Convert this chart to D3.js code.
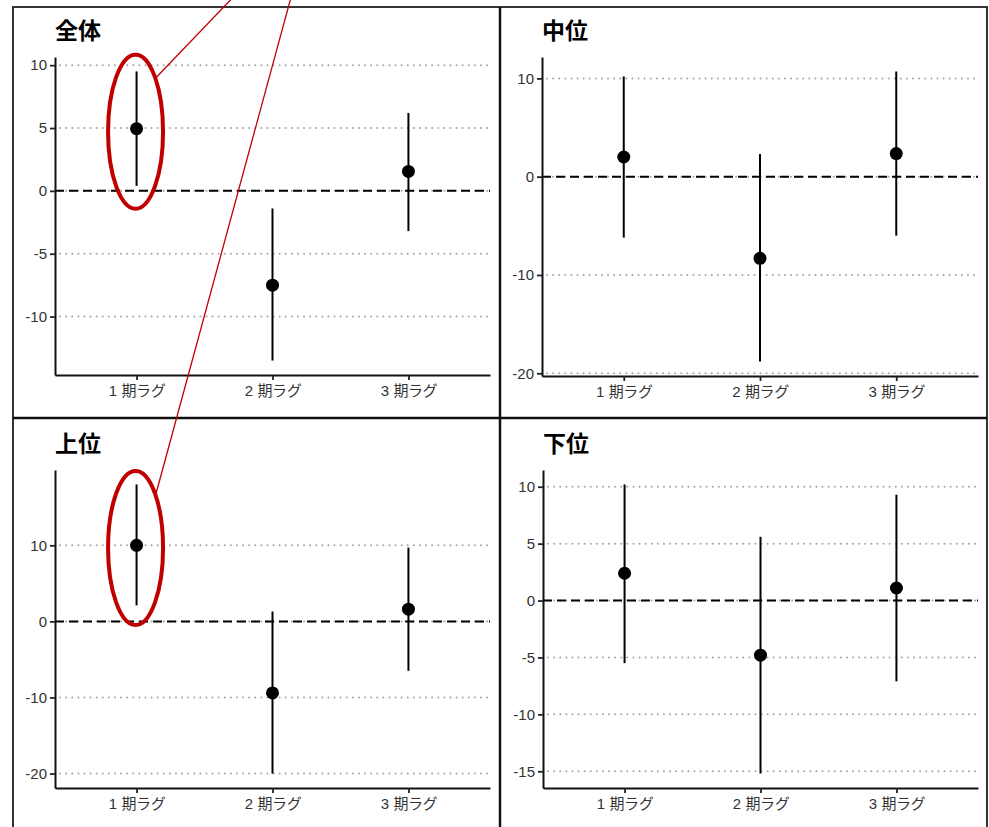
<!DOCTYPE html>
<html>
<head>
<meta charset="utf-8">
<script src="https://cdn.jsdelivr.net/npm/d3@7"></script>
<style>
  body { margin: 0; background: #fff; }
  .tick text { font-family: "Liberation Sans", "Noto Sans CJK JP", sans-serif; font-size: 15px; fill: #333; }
  .x-axis .tick text { font-size: 15px; letter-spacing: -0.4px; word-spacing: 1px; }
  .title { font-family: "Noto Sans CJK JP", sans-serif; font-weight: 700; font-size: 23px; fill: #000; }
</style>
</head>
<body>
<svg id="chart"></svg>
<script>
"use strict";

// categories
const lags = [ '1 期ラグ', '2 期ラグ', '3 期ラグ' ];
const panelNames = [ '全体', '中位', '上位', '下位' ];

// estimates and interval ends, per panel
const estAll    = [  4.95, -7.5,  1.55 ];
const lowAll    = [  0.4, -13.5, -3.2 ];
const highAll   = [  9.5,  -1.4,  6.2 ];

const estMid    = [  2.0,  -8.3,  2.35 ];
const lowMid    = [ -6.2, -18.8, -6.0 ];
const highMid   = [ 10.2,   2.3, 10.7 ];

const estTop    = [ 10.0,  -9.4,  1.6 ];
const lowTop    = [  2.1, -20.0, -6.5 ];
const highTop   = [ 18.0,   1.3,  9.7 ];

const estBottom  = [  2.4,  -4.8,  1.1 ];
const lowBottom  = [ -5.5, -15.2, -7.1 ];
const highBottom = [ 10.2,   5.6,  9.3 ];

// tick labels
const ticksAll    = [ -10, -5, 0, 5, 10 ];
const ticksMid    = [ -20, -10, 0, 10 ];
const ticksTop    = [ -20, -10, 0, 10 ];
const ticksBottom = [ -15, -10, -5, 0, 5, 10 ];

const width = 989, height = 827;

const panels = [
  { name: panelNames[0], est: estAll,    lo: lowAll,    hi: highAll,    ticks: ticksAll,    x0: 55,  x1: 490, y0: 57,  y1: 375 },
  { name: panelNames[1], est: estMid,    lo: lowMid,    hi: highMid,    ticks: ticksMid,    x0: 542, x1: 978, y0: 57,  y1: 376 },
  { name: panelNames[2], est: estTop,    lo: lowTop,    hi: highTop,    ticks: ticksTop,    x0: 55,  x1: 490, y0: 470, y1: 788 },
  { name: panelNames[3], est: estBottom, lo: lowBottom, hi: highBottom, ticks: ticksBottom, x0: 543, x1: 978, y0: 470, y1: 788 }
];

const svg = d3.select( '#chart' )
  .attr( 'width', width )
  .attr( 'height', height )
  .style( 'display', 'block' );

svg.append( 'rect' ).attr( 'width', width ).attr( 'height', height ).attr( 'fill', '#fff' );

panels.forEach( (p) => {

  // scales, ggplot-like 5% expansion of the data range
  const lo = d3.min( p.lo ), hi = d3.max( p.hi ), pad = ( hi - lo ) * 0.05;
  const y = d3.scaleLinear().domain( [ lo - pad, hi + pad ] ).range( [ p.y1, p.y0 ] );
  const x = d3.scalePoint().domain( lags ).range( [ p.x0, p.x1 ] ).padding( 0.6 );
  p.x = x; p.y = y;

  const g = svg.append( 'g' );

  // title
  g.append( 'text' )
    .attr( 'class', 'title' )
    .attr( 'x', p.x0 )
    .attr( 'y', p.y0 - 18 )
    .text( p.name );

  // dotted grid
  g.selectAll( '.grid' )
    .data( p.ticks )
    .enter().append( 'line' )
      .attr( 'x1', p.x0 + 5 )
      .attr( 'x2', p.x1 )
      .attr( 'y1', (d) => y( d ) )
      .attr( 'y2', (d) => y( d ) )
      .attr( 'stroke', '#a8a8a8' )
      .attr( 'stroke-width', 2 )
      .attr( 'stroke-linecap', 'round' )
      .attr( 'stroke-dasharray', '0.1,6' );

  // zero line
  g.append( 'line' )
    .attr( 'x1', p.x0 )
    .attr( 'x2', p.x1 )
    .attr( 'y1', y( 0 ) )
    .attr( 'y2', y( 0 ) )
    .attr( 'stroke', '#000' )
    .attr( 'stroke-width', 2 )
    .attr( 'stroke-dasharray', '9,5' );

  // y-axis
  const ya = g.append( 'g' )
    .attr( 'class', 'y-axis' )
    .attr( 'transform', 'translate(' + p.x0 + ',0)' )
    .call( d3.axisLeft( y ).tickValues( p.ticks ).tickFormat( (d) => String( d ) )
             .tickSize( 5 ).tickSizeOuter( 0 ).tickPadding( 3 ) );

  // x-axis
  const xa = g.append( 'g' )
    .attr( 'class', 'x-axis' )
    .attr( 'transform', 'translate(0,' + p.y1 + ')' )
    .call( d3.axisBottom( x ).tickSize( 5 ).tickSizeOuter( 0 ).tickPadding( 5 ) );

  [ ya, xa ].forEach( (a) => {
    a.select( '.domain' ).attr( 'stroke', '#111' ).attr( 'stroke-width', 2 );
    a.selectAll( '.tick line' ).attr( 'stroke', '#222' ).attr( 'stroke-width', 1.8 );
  });

  // intervals and points
  const rows = lags.map( (l, i) => ({ lag: l, est: p.est[i], lo: p.lo[i], hi: p.hi[i] }) );

  g.selectAll( '.bar' )
    .data( rows )
    .enter().append( 'line' )
      .attr( 'x1', (d) => x( d.lag ) )
      .attr( 'x2', (d) => x( d.lag ) )
      .attr( 'y1', (d) => y( d.lo ) )
      .attr( 'y2', (d) => y( d.hi ) )
      .attr( 'stroke', '#000' )
      .attr( 'stroke-width', 2 );

  g.selectAll( '.pt' )
    .data( rows )
    .enter().append( 'circle' )
      .attr( 'cx', (d) => x( d.lag ) )
      .attr( 'cy', (d) => y( d.est ) )
      .attr( 'r', 6.5 )
      .attr( 'fill', '#000' );
});

// panel frame
const frame = svg.append( 'g' ).attr( 'fill', 'none' );
frame.append( 'rect' )
  .attr( 'x', 13 ).attr( 'y', 7 ).attr( 'width', 974 ).attr( 'height', 840 )
  .attr( 'stroke', '#333' ).attr( 'stroke-width', 2 );
frame.append( 'line' )
  .attr( 'x1', 500 ).attr( 'x2', 500 ).attr( 'y1', 7 ).attr( 'y2', height )
  .attr( 'stroke', '#111' ).attr( 'stroke-width', 2.5 );
frame.append( 'line' )
  .attr( 'x1', 13 ).attr( 'x2', 987 ).attr( 'y1', 418 ).attr( 'y2', 418 )
  .attr( 'stroke', '#111' ).attr( 'stroke-width', 2.5 );

// red callouts round the first lag of 全体 and 上位
const calloutPanels  = [ 0, 2 ];
const calloutOrigins = [ [ 240, -10 ], [ 293, -10 ] ];

calloutPanels.forEach( (pi, k) => {
  const p = panels[ pi ];
  const cx = p.x( lags[0] ) - 1,
        cy = ( p.y( p.lo[0] ) + p.y( p.hi[0] ) ) / 2 + 3,
        rx = 27.5,
        ry = 77;

  svg.append( 'ellipse' )
    .attr( 'cx', cx ).attr( 'cy', cy ).attr( 'rx', rx ).attr( 'ry', ry )
    .attr( 'fill', 'none' )
    .attr( 'stroke', '#c00000' )
    .attr( 'stroke-width', 4 );

  svg.append( 'line' )
    .attr( 'x1', calloutOrigins[k][0] ).attr( 'y1', calloutOrigins[k][1] )
    .attr( 'x2', cx + rx * 0.74 ).attr( 'y2', cy - ry * 0.7 )
    .attr( 'stroke', '#c00000' )
    .attr( 'stroke-width', 1.3 );
});
</script>
</body>
</html>
